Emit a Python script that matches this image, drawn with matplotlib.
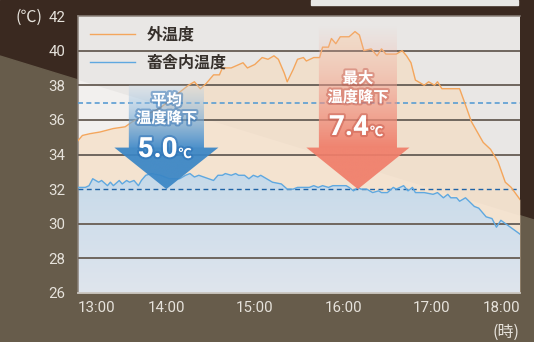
import numpy as np
import matplotlib
matplotlib.use("Agg")
import matplotlib.pyplot as plt
from matplotlib.patches import Polygon, Rectangle
from matplotlib.colors import to_rgb
from matplotlib import patheffects as pe

plt.rcParams['font.family'] = ['Roboto', 'Noto Sans CJK JP', 'DejaVu Sans']

# 外温度: minutes after 13:00 and temperature (℃)
out_min = [0, 3, 8, 15, 24, 32, 37, 44, 56, 66,
           75, 79, 83, 87, 92, 96, 98, 104, 112, 115,
           120, 125, 129, 133, 136, 140, 142, 146, 149, 153,
           155, 160, 164, 166, 170, 172, 175, 178, 184, 188,
           191, 194, 199, 203, 206, 209, 216, 220, 223, 226,
           229, 235, 238, 242, 244, 247, 259, 262, 267, 275,
           280, 285, 290, 294, 300]
out_temp = [34.8, 35.1, 35.2, 35.3, 35.5, 35.6, 35.9, 36.2, 36.7, 37.4,
            38.0, 38.2, 37.8, 38.1, 38.6, 38.6, 39.0, 39.0, 39.3, 39.0,
            39.2, 39.6, 39.5, 39.7, 39.5, 38.7, 38.2, 38.9, 39.5, 39.6,
            39.4, 39.6, 39.6, 40.2, 40.2, 40.7, 40.4, 40.8, 40.8, 41.1,
            40.9, 40.0, 40.1, 39.7, 40.1, 39.8, 39.8, 40.0, 39.7, 39.3,
            38.3, 38.0, 38.2, 38.0, 38.2, 37.8, 37.8, 37.1, 35.9, 34.7,
            34.3, 33.6, 32.4, 32.1, 31.4]

# 畜舎内温度
in_min = [0, 3, 5, 7.5, 10, 14, 16, 20, 22, 24,
          28, 30, 33, 35, 38, 41, 43, 46, 50, 56,
          62, 69, 73, 76, 79, 82, 92, 95, 98, 100,
          104, 107, 109, 113, 116, 119, 122, 124, 128, 132,
          138, 142, 146, 149, 157, 160, 163, 166, 170, 173,
          182, 184, 187, 190, 192, 196, 200, 204, 206, 210,
          214, 216, 221, 224, 227, 229, 233, 235, 241, 244,
          248, 251, 253, 257, 259, 263, 269, 272, 277, 281,
          284, 287, 300]
in_temp = [32.1, 32.1, 32.1, 32.2, 32.6, 32.4, 32.5, 32.2, 32.4, 32.2,
           32.5, 32.3, 32.5, 32.4, 32.5, 32.2, 32.5, 32.8, 32.9, 32.8,
           32.6, 32.6, 32.8, 32.9, 32.7, 32.8, 32.5, 32.8, 32.8, 32.9,
           32.8, 32.9, 32.8, 32.8, 32.6, 32.8, 32.7, 32.8, 32.6, 32.4,
           32.3, 32.0, 32.0, 32.1, 32.1, 32.2, 32.1, 32.2, 32.1, 32.2,
           32.2, 32.1, 31.9, 32.1, 32.0, 32.0, 31.8, 31.9, 31.8, 31.8,
           32.1, 32.0, 32.2, 31.9, 32.1, 31.8, 31.8, 31.8, 31.7, 31.8,
           31.5, 31.7, 31.5, 31.5, 31.3, 31.5, 31.0, 30.9, 30.4, 30.3,
           29.8, 30.2, 29.4]

avg_out = 37.0      # 外温度の平均
avg_in = 32.0       # 畜舎内温度の平均
max_drop = 7.4

hour_ticks = [0, 60, 120, 180, 240, 300]
hour_labels = ['13:00', '14:00', '15:00', '16:00', '17:00', '18:00']
temp_ticks = [26, 28, 30, 32, 34, 36, 38, 40, 42]
grid_levels = [28, 30, 34, 36, 38, 40]

W, H = 534, 342
fig = plt.figure(figsize=(W / 100, H / 100), dpi=100)


def px(x, y):
    return x / W, 1 - y / H


# background (pixel coordinates)
bg = fig.add_axes([0, 0, 1, 1], zorder=-10)
bg.set_xlim(0, W)
bg.set_ylim(H, 0)
bg.axis('off')
bg.add_patch(Rectangle((0, 0), W, H, color='#3a2920'))
band = [(0, 56), (W, 220), (W, H), (0, H)]
bg.add_patch(Polygon(band, closed=True, color='#675c4b'))
bg.add_patch(Rectangle((311, 0), 207, 5, color='#e8e7e5'))

ax = fig.add_axes([78 / W, (H - 293) / H, 442 / W, 277 / H])
ax.set_facecolor('#e9e7e5')
ax.add_patch(Polygon(band, closed=True, transform=bg.transData,
                     facecolor='#f2f0ee', edgecolor='none', zorder=0.5))

# outside temperature fill
ax.fill_between(out_min, out_temp, 26, color='#f7d9b9', alpha=0.55,
                lw=0, zorder=1)

# inside temperature fill with vertical gradient
in_poly = Polygon([(in_min[0], 26)] + list(zip(in_min, in_temp)) + [(in_min[-1], 26)],
                  closed=True, transform=ax.transData, facecolor='none',
                  edgecolor='none')
ax.add_patch(in_poly)
yy = np.linspace(0, 1, 200)[:, None]
c_bot, c_top = np.array(to_rgb('#dfe5ed')), np.array(to_rgb('#c5d9e9'))
t_mix = np.clip(yy / 0.45, 0, 1)
grad = c_bot * (1 - t_mix[..., None]) + c_top * t_mix[..., None]
grad = np.repeat(grad, 2, axis=1)
im = ax.imshow(grad, extent=[0, 300, 26, 42], origin='lower', aspect='auto',
               zorder=2, interpolation='bilinear')
im.set_clip_path(in_poly)

for lv in grid_levels:
    ax.axhline(lv, color='#6f665e', lw=1.4, zorder=3)
ax.axhline(avg_out, color='#5a9dd3', lw=1.2, dashes=(3, 2), zorder=4)
ax.axhline(avg_in, color='#1f63a6', lw=1.0, dashes=(3.5, 2.5), zorder=4)

ax.plot(out_min, out_temp, color='#f4a65c', lw=1.0, zorder=5, label='外温度')
ax.plot(in_min, in_temp, color='#5fa8e0', lw=1.0, zorder=5, label='畜舎内温度')


def drop_arrow(xc, top, head_y, tip, half_shaft, half_head,
               c_light, c_dark, c_head, a_top):
    verts = [(xc - half_shaft, top), (xc + half_shaft, top),
             (xc + half_shaft, head_y), (xc + half_head, head_y),
             (xc, tip), (xc - half_head, head_y), (xc - half_shaft, head_y)]
    poly = Polygon(verts, closed=True, transform=ax.transData,
                   facecolor='none', edgecolor='none')
    ax.add_patch(poly)
    ys = np.linspace(tip, top, 300)
    f = np.clip((top - ys) / (top - head_y), 0, 1)
    cl, cd, ch = map(lambda c: np.array(to_rgb(c)), (c_light, c_dark, c_head))
    rgb = cl[None, :] * (1 - f[:, None]) + cd[None, :] * f[:, None]
    alpha = a_top + (0.92 - a_top) * f ** 0.8
    rgb[ys < head_y] = ch
    alpha[ys < head_y] = 0.93
    img = np.concatenate([rgb, alpha[:, None]], axis=1)[:, None, :]
    img = np.repeat(img, 2, axis=1)
    g = ax.imshow(img, extent=[xc - half_head, xc + half_head, tip, top],
                  origin='lower', aspect='auto', zorder=6,
                  interpolation='bilinear')
    g.set_clip_path(poly)


drop_arrow(60, 38.0, 34.4, avg_in, 25.5, 35.3,
           '#b7d3ea', '#3f8acb', '#3a86c6', 0.2)
drop_arrow(190, 41.4, 34.4, avg_in, 26.5, 35.0,
           '#f3c2b6', '#ef7c68', '#f07e6a', 0.0)

ax.set_xlim(0, 300)
ax.set_ylim(26, 42)
ax.set_xticks(hour_ticks, hour_labels)
ax.set_yticks(temp_ticks)
ax.tick_params(length=0, labelsize=10.8, labelcolor='#e6e2db')
ax.tick_params(axis='x', pad=6)
ax.tick_params(axis='y', pad=9)
xl = ax.get_xticklabels()
xl[0].set_ha('left')
xl[-1].set_ha('right')
for side in ['left', 'top']:
    ax.spines[side].set_color('#8a8179')
    ax.spines[side].set_linewidth(1.1)
ax.spines['bottom'].set_color('#c9c5bf')
ax.spines['bottom'].set_linewidth(1.3)
ax.spines['right'].set_visible(False)

leg = ax.legend(loc='upper left', bbox_to_anchor=(0.027, 0.962), frameon=False,
                handlelength=2.8, handletextpad=0.75, labelspacing=0.75,
                borderpad=0, borderaxespad=0,
                prop={'family': ['Noto Sans CJK JP'], 'size': 11.5, 'weight': 'bold'})
for txt in leg.get_texts():
    txt.set_color('#36302b')

cjk = ['Noto Sans CJK JP', 'DejaVu Sans']
fig.text(*px(29, 17), '(℃)', ha='center', va='center', family=cjk,
         fontsize=11.5, color='#e6e2db')
fig.text(*px(506, 332), '(時)', ha='center', va='center', family=cjk,
         fontsize=11.5, color='#e6e2db')

blue_fx = [pe.withStroke(linewidth=3, foreground=(0.15, 0.42, 0.7, 0.45))]
red_fx = [pe.withStroke(linewidth=3, foreground=(0.75, 0.3, 0.25, 0.4))]
avg_drop = avg_out - avg_in

for (cx, y1, y2, base, head, num, fx) in [
        (166.5, 100, 118, 157, '平均', f'{avg_drop:.1f}', blue_fx),
        (358, 78, 97, 135, '最大', f'{max_drop:.1f}', red_fx)]:
    fig.text(*px(cx, y1), head, ha='center', va='center', family=cjk,
             fontsize=11, weight='bold', color='white', path_effects=fx)
    fig.text(*px(cx, y2), '温度降下', ha='center', va='center', family=cjk,
             fontsize=11, weight='bold', color='white', path_effects=fx)
    fig.text(*px(cx + 11, base), num, ha='right', va='baseline',
             family=['Roboto'], fontsize=20, weight='bold', color='white',
             path_effects=fx)
    fig.text(*px(cx + 12, base + 1), '℃', ha='left', va='baseline',
             family=cjk, fontsize=9.5, weight='bold', color='white',
             path_effects=fx)

fig.savefig('out.png', dpi=100)
